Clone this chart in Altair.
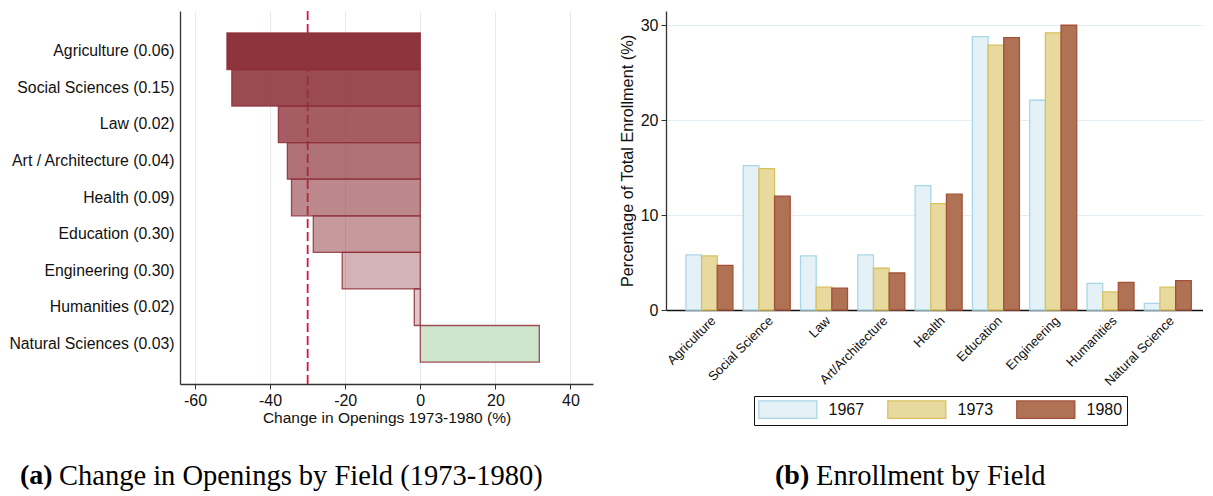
import pandas as pd
import altair as alt

# panel (a): change in openings by field, 1973-1980
fields_a = [
    "Agriculture (0.06)", "Social Sciences (0.15)", "Law (0.02)",
    "Art / Architecture (0.04)", "Health (0.09)", "Education (0.30)",
    "Engineering (0.30)", "Humanities (0.02)", "Natural Sciences (0.03)",
]
change_pct = [-51.5, -50.2, -37.8, -35.4, -34.3, -28.5, -20.8, -1.6, 31.7]
avg_change = -30.0

# panel (b): enrollment shares by field
fields_b = [
    "Agriculture", "Social Science", "Law", "Art/Architecture", "Health",
    "Education", "Engineering", "Humanities", "Natural Science",
]
years = ["1967", "1973", "1980"]
enroll_1967 = [5.8, 15.2, 5.7, 5.8, 13.1, 28.8, 22.1, 2.8, 0.7]
enroll_1973 = [5.7, 14.9, 2.4, 4.4, 11.2, 27.9, 29.2, 1.9, 2.4]
enroll_1980 = [4.7, 12.0, 2.3, 3.9, 12.2, 28.7, 30.0, 2.9, 3.1]

# styles
bar_fill_a = ["#8e343c"] * 8 + ["#cfe5cd"]
bar_alpha_a = [1.0, 0.89, 0.8, 0.7, 0.59, 0.5, 0.38, 0.27, 1.0]
year_fill = ["#e4f2f8", "#e8d99e", "#b07255"]
year_stroke = ["#a9d6e6", "#d9c061", "#a3503a"]
SANS = "Liberation Sans"
SERIF = "Liberation Serif"

df_a = pd.DataFrame({
    "field": fields_a, "change": change_pct,
    "fill": bar_fill_a, "alpha": bar_alpha_a,
})
df_b = pd.DataFrame(
    [
        {"field": f, "year": y, "share": v}
        for y, vals in zip(years, [enroll_1967, enroll_1973, enroll_1980])
        for f, v in zip(fields_b, vals)
    ]
)


def caption(label, text, x_label, x_text, y):
    one = pd.DataFrame({"t": [label]})
    two = pd.DataFrame({"t": [text]})
    bold = (
        alt.Chart(one)
        .mark_text(font=SERIF, fontSize=28, fontWeight="bold", align="left",
                   baseline="middle", color="black")
        .encode(text="t:N", x=alt.value(x_label), y=alt.value(y))
    )
    plain = (
        alt.Chart(two)
        .mark_text(font=SERIF, fontSize=28.5, align="left",
                   baseline="middle", color="black")
        .encode(text="t:N", x=alt.value(x_text), y=alt.value(y))
    )
    return bold + plain


bars_a = (
    alt.Chart(df_a)
    .mark_bar(stroke="#8e2f38", strokeWidth=1.3, strokeOpacity=0.85)
    .encode(
        alt.Y(
            "field:N",
            sort=fields_a,
            scale=alt.Scale(paddingInner=0, paddingOuter=0.6),
            axis=alt.Axis(
                title=None, ticks=False, labelFontSize=15.8, labelFont=SANS,
                labelColor="#111", labelPadding=6, domainColor="#333",
                domainWidth=1.3, grid=False,
            ),
        ),
        alt.X(
            "change:Q",
            scale=alt.Scale(domain=[-64, 46], nice=False, zero=False),
            axis=alt.Axis(
                title="Change in Openings 1973-1980 (%)",
                values=[-60, -40, -20, 0, 20, 40],
                labelExpr="datum.value < 0 ? '-' + abs(datum.value) : '' + datum.value",
                labelFontSize=16, labelFont=SANS, labelColor="#111",
                titleFontSize=15.5, titleFont=SANS, titleFontWeight="normal",
                titleColor="#111", titlePadding=2, labelPadding=3,
                tickSize=5, tickColor="#333", domainColor="#333",
                domainWidth=1.3, grid=True, gridColor="#e2ecee",
            ),
        ),
        alt.Fill("fill:N", scale=None),
        alt.FillOpacity("alpha:Q", scale=None),
    )
)

rule_a = (
    alt.Chart(pd.DataFrame({"x": [avg_change]}))
    .mark_rule(color="#d91442", strokeDash=[9, 4], strokeWidth=1.8)
    .encode(x="x:Q")
)

left = (rule_a + bars_a + caption(
    "(a)", "Change in Openings by Field (1973-1980)", -160, -121, 465
)).properties(width=413, height=373)

# the legend is lifted to the top level, so its position is measured
# from the origin of the left plot
legend_cfg = alt.Legend(
    title=None, orient="none", legendX=574, legendY=385, direction="horizontal",
    columns=3, symbolType="M-1,-1H5.667V1H-1Z", symbolSize=303,
    symbolStrokeWidth=1.3, labelFontSize=16, labelFont=SANS, labelColor="#111",
    labelOffset=51.5, columnPadding=20, strokeColor="#111", padding=4,
)

bars_b = (
    alt.Chart(df_b)
    .mark_bar(strokeWidth=1.3)
    .encode(
        alt.X(
            "field:N",
            sort=fields_b,
            scale=alt.Scale(paddingInner=0.18, paddingOuter=0.276, align=0.63),
            axis=alt.Axis(
                title=None, labelAngle=-45, labelFontSize=13, labelFont=SANS,
                labelColor="#111", ticks=False, domainColor="#111",
                domainWidth=1.3, labelPadding=4,
            ),
        ),
        alt.Y(
            "share:Q",
            scale=alt.Scale(domain=[0, 31.5], nice=False),
            axis=alt.Axis(
                title="Percentage of Total Enrollment (%)",
                values=[0, 10, 20, 30],
                labelFontSize=16, labelFont=SANS, labelColor="#111",
                titleFontSize=16.3, titleFont=SANS, titleFontWeight="normal",
                titleColor="#111", titlePadding=5, labelPadding=3,
                tickSize=5, tickColor="#333", domainColor="#333",
                domainWidth=1.3, grid=True, gridColor="#e2eef2",
            ),
        ),
        alt.XOffset("year:N", sort=years),
        alt.Fill("year:N", sort=years,
                 scale=alt.Scale(domain=years, range=year_fill), legend=legend_cfg),
        alt.Stroke("year:N", sort=years,
                   scale=alt.Scale(domain=years, range=year_stroke), legend=legend_cfg),
    )
)

right = (bars_b + caption(
    "(b)", "Enrollment by Field", 109, 150, 465
)).properties(width=537, height=299)

chart = (
    alt.hconcat(left, right, spacing=26)
    .properties(padding={"left": 0, "top": 2, "right": 0, "bottom": 0})
    .configure_view(stroke=None)
)

chart.save("out.html", embed_options={"renderer": "svg", "actions": False})
